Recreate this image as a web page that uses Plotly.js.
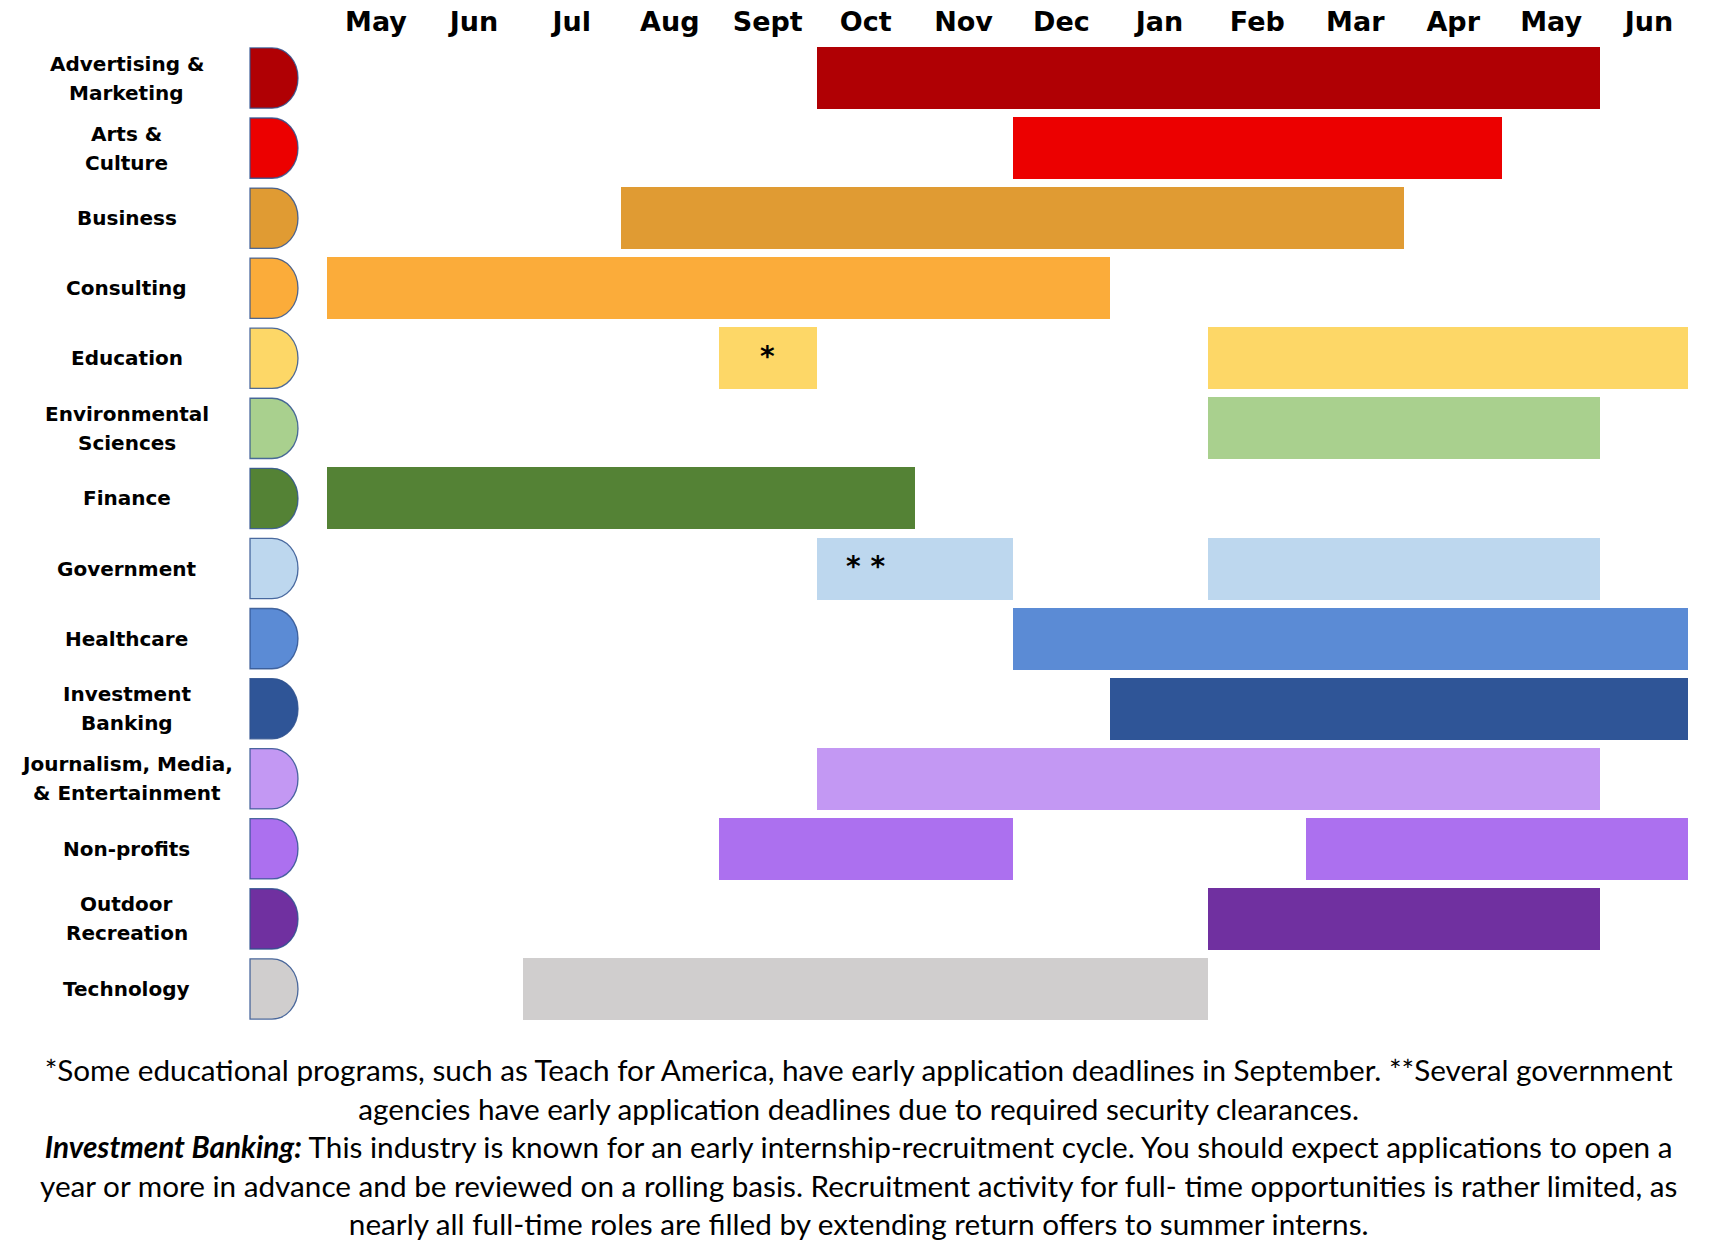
<!DOCTYPE html>
<html>
<head>
<meta charset="utf-8">
<script src="https://cdn.plot.ly/plotly-3.0.1.min.js"></script>
<style>
  html, body { margin: 0; padding: 0; background: #ffffff; }
  #chart { width: 1721px; height: 1256px; }
</style>
</head>
<body>
<div id="chart"></div>
<script>
// ---------- DATA ----------
const months = ["May", "Jun", "Jul", "Aug", "Sept", "Oct", "Nov", "Dec", "Jan", "Feb", "Mar", "Apr", "May", "Jun"];

const categories = [
  "Advertising &<br>Marketing",
  "Arts &<br>Culture",
  "Business",
  "Consulting",
  "Education",
  "Environmental<br>Sciences",
  "Finance",
  "Government",
  "Healthcare",
  "Investment<br>Banking",
  "Journalism, Media,<br>& Entertainment",
  "Non-profits",
  "Outdoor<br>Recreation",
  "Technology"
];

// one entry per bar: category row, start month position, end month position (0 = start of first May)
const barCategory = [0, 1, 2, 3, 4, 4, 5, 6, 7, 7, 8, 9, 10, 11, 11, 12, 13];
const barStart    = [5, 7, 3, 0, 4, 9, 9, 0, 5, 9, 7, 8, 5, 4, 10, 9, 2];
const barEnd      = [13, 12, 11, 8, 5, 13.9, 13, 6, 7, 13, 13.9, 13.9, 13, 7, 13.9, 13, 9];

// asterisk notes placed on bars
const noteText     = ["*", "* *"];
const noteCategory = [4, 7];
const noteMonth    = [4.5, 5.5];

const footnoteLines = [
  "*Some educational programs, such as Teach for America, have early application deadlines in September. **Several government",
  "agencies have early application deadlines due to required security clearances.",
  "<b><i>Investment Banking:</i></b> This industry is known for an early internship-recruitment cycle. You should expect applications to open a",
  "year or more in advance and be reviewed on a rolling basis. Recruitment activity for full- time opportunities is rather limited, as",
  "nearly all full-time roles are filled by extending return offers to summer interns."
];

// ---------- STYLE ----------
const categoryColors = [
  "#B00004", "#EC0000", "#E09B33", "#FBAC3A", "#FDD767", "#A9D08E", "#548235",
  "#BDD7EE", "#5B8BD5", "#2F5597", "#C398F3", "#AC70EF", "#7030A0", "#D0CECE"
];

const W = 1721, H = 1256;
const M = { l: 327, r: 23, t: 43, b: 232 };
const plotW = W - M.l - M.r;
const plotH = H - M.t - M.b;
const px2paperX = p => (p - M.l) / plotW;
const px2paperY = p => (M.t + plotH - p) / plotH;

const barWidth = 0.885;

// ---------- TRACES ----------
const trace = {
  type: "bar",
  orientation: "h",
  y: barCategory,
  base: barStart,
  x: barEnd.map((e, i) => e - barStart[i]),
  width: barWidth,
  marker: { color: barCategory.map(c => categoryColors[c]), line: { width: 0 } },
  hoverinfo: "skip",
  showlegend: false
};

// ---------- ANNOTATIONS ----------
const annotations = [];
const labelX = px2paperX(126.5);
categories.forEach((cat, i) => {
  const lines = cat.split("<br>");
  const shifts = lines.length === 2 ? [14.5, -14.5] : [0];
  lines.forEach((ln, j) => {
    annotations.push({
      xref: "paper", yref: "y", x: labelX, y: i,
      xanchor: "center", yanchor: "middle", yshift: shifts[j],
      text: ln, showarrow: false,
      font: { family: "DejaVu Sans", size: 20, color: "#000000", weight: "bold" }
    });
  });
});

noteText.forEach((t, i) => {
  annotations.push({
    xref: "x", yref: "y", x: noteMonth[i], y: noteCategory[i],
    xanchor: "center", yanchor: "middle", yshift: 2,
    text: t, showarrow: false,
    font: { family: "DejaVu Sans", size: 28, color: "#000000", weight: "bold" }
  });
});

annotations.push({
  xref: "paper", yref: "paper",
  x: px2paperX(858), y: px2paperY(1146),
  xanchor: "center", yanchor: "middle", align: "center",
  text: footnoteLines.join("<br>"), showarrow: false,
  font: { family: "Lato", size: 29.7, color: "#000000" }
});

// ---------- D-shaped markers ----------
const shapes = [];
const dx0 = px2paperX(250), dxm = px2paperX(272), dx1 = px2paperX(298);
const k = 0.56;
const h = 0.43;
categories.forEach((cat, i) => {
  const yt = i - h, yb = i + h, yc = i;
  const rx = dx1 - dxm;
  const path =
    `M ${dx0},${yt} L ${dxm},${yt} ` +
    `C ${dxm + k * rx},${yt} ${dx1},${yc - k * h} ${dx1},${yc} ` +
    `C ${dx1},${yc + k * h} ${dxm + k * rx},${yb} ${dxm},${yb} ` +
    `L ${dx0},${yb} Z`;
  shapes.push({
    type: "path", xref: "paper", yref: "y", path: path,
    fillcolor: categoryColors[i],
    line: { color: "rgba(47,82,143,0.85)", width: 1.3 },
    layer: "above"
  });
});

const layout = {
  width: W, height: H,
  margin: M,
  paper_bgcolor: "#ffffff",
  plot_bgcolor: "#ffffff",
  bargap: 0,
  xaxis: {
    range: [0, 14],
    side: "top",
    tickvals: months.map((m, i) => i + 0.5),
    ticktext: months,
    ticks: "",
    ticklabelstandoff: 6,
    showgrid: false, zeroline: false, showline: false,
    tickfont: { family: "DejaVu Sans", size: 27, color: "#000000", weight: "bold" },
    fixedrange: true
  },
  yaxis: {
    range: [categories.length - 0.5, -0.5],
    showticklabels: false,
    showgrid: false, zeroline: false, showline: false,
    fixedrange: true
  },
  annotations: annotations,
  shapes: shapes,
  showlegend: false
};

Plotly.newPlot("chart", [trace], layout, { staticPlot: true, displayModeBar: false });
</script>
</body>
</html>
